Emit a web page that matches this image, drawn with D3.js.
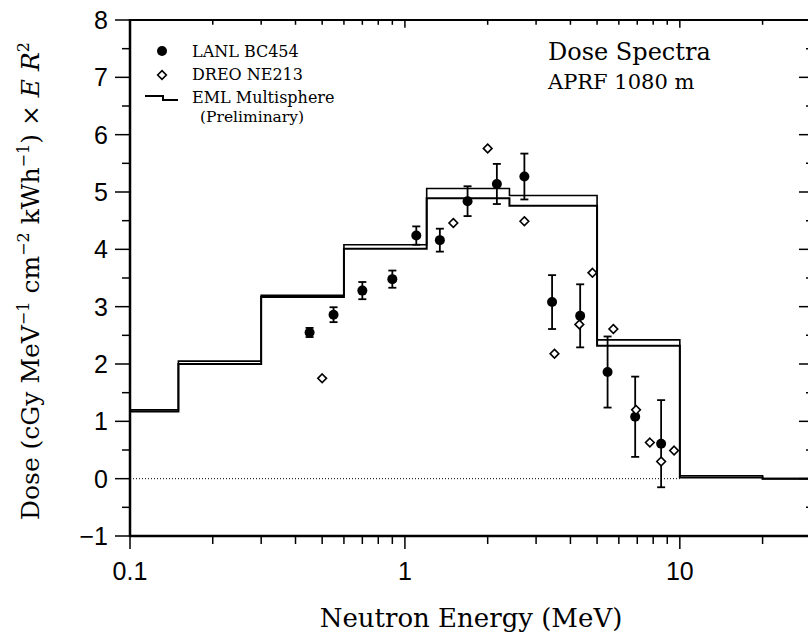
<!DOCTYPE html>
<html>
<head>
<meta charset="utf-8">
<script src="https://cdn.jsdelivr.net/npm/d3@7"></script>
<style>
  body { margin: 0; background: #fff; }
  svg { display: block; }
</style>
</head>
<body>
<div id="chart"></div>
<script>
// EML multisphere bins (edges in MeV) with upper / lower outlines
var binEdges = [0.1, 0.15, 0.3, 0.6, 1.2, 2.4, 5, 10, 20, 30];
var emlUpper = [1.20, 2.05, 3.20, 4.08, 5.06, 4.94, 2.42, 0.05, 0];
var emlLower = [1.17, 2.00, 3.17, 4.01, 4.89, 4.76, 2.32, 0.02, 0];

// LANL BC454 points
var lanlE    = [0.45, 0.55, 0.70, 0.90, 1.10, 1.34, 1.69, 2.16, 2.72, 3.43, 4.34, 5.46, 6.88, 8.55];
var lanlDose = [2.55, 2.86, 3.28, 3.48, 4.24, 4.16, 4.84, 5.14, 5.27, 3.08, 2.84, 1.86, 1.08, 0.61];
var lanlErr  = [0.08, 0.13, 0.15, 0.15, 0.16, 0.20, 0.26, 0.35, 0.40, 0.47, 0.55, 0.62, 0.70, 0.76];

// DREO NE213 points
var dreoE    = [0.50, 1.50, 2.00, 2.72, 3.50, 4.31, 4.81, 5.73, 6.93, 7.78, 8.55, 9.53];
var dreoDose = [1.75, 4.46, 5.76, 4.49, 2.18, 2.69, 3.59, 2.61, 1.20, 0.63, 0.30, 0.49];

var yTicks = [-1, 0, 1, 2, 3, 4, 5, 6, 7, 8];
var xTickLabels = [0.1, 1, 10];

var W = 808, H = 641;
var pL = 130, pR = 811, pT = 20, pB = 536;

var svg = d3.select("#chart").append("svg")
  .attr("width", W).attr("height", H);

var x = d3.scaleLog().domain([0.1, 30]).range([pL, pR]);
var y = d3.scaleLinear().domain([-1, 8]).range([pB, pT]);

var serif = "'DejaVu Serif', serif";
var sans = "'Liberation Sans', Arial, sans-serif";

// zero line (dotted)
svg.append("line")
  .attr("x1", x(0.1)).attr("x2", x(10))
  .attr("y1", y(0)).attr("y2", y(0))
  .attr("stroke", "#000").attr("stroke-width", 1)
  .attr("stroke-dasharray", "1,2");

// minor / major x ticks
var xMinor = [];
[0.1, 1, 10].forEach(function(d) {
  for (var k = 1; k <= 9; k++) { if (d * k <= 30.001) xMinor.push(+(d * k).toFixed(3)); }
});

var axes = svg.append("g").attr("stroke", "#000");
xMinor.forEach(function(v) {
  var major = xTickLabels.indexOf(v) >= 0;
  var len = major ? 13 : 8;
  // bottom (outward)
  axes.append("line").attr("x1", x(v)).attr("x2", x(v))
    .attr("y1", pB).attr("y2", pB + len).attr("stroke-width", 1.5);
  // top (inward)
  axes.append("line").attr("x1", x(v)).attr("x2", x(v))
    .attr("y1", pT).attr("y2", pT + len * 0.6).attr("stroke-width", 1.5);
});

// y ticks left (outward) and right (inward)
d3.range(-1, 8.01, 0.5).forEach(function(v) {
  var major = Math.abs(v - Math.round(v)) < 1e-6;
  var len = major ? 15 : 8;
  axes.append("line").attr("x1", pL - len).attr("x2", pL)
    .attr("y1", y(v)).attr("y2", y(v)).attr("stroke-width", 1.5);
  axes.append("line").attr("x1", pR - len + 3).attr("x2", pR)
    .attr("y1", y(v)).attr("y2", y(v)).attr("stroke-width", 1.5);
});

// frame
axes.append("line").attr("x1", pL).attr("x2", pL).attr("y1", pT - 1).attr("y2", pB + 1).attr("stroke-width", 2.5);
axes.append("line").attr("x1", pL).attr("x2", pR).attr("y1", pB).attr("y2", pB).attr("stroke-width", 2.5);
axes.append("line").attr("x1", pL).attr("x2", pR).attr("y1", pT).attr("y2", pT).attr("stroke-width", 2);
axes.append("line").attr("x1", pR).attr("x2", pR).attr("y1", pT).attr("y2", pB).attr("stroke-width", 2);

// tick labels
svg.selectAll(".ylab").data(yTicks).enter().append("text")
  .attr("x", 108).attr("y", function(d) { return y(d) + 9; })
  .attr("text-anchor", "end")
  .style("font-family", sans).style("font-size", "25px")
  .text(function(d) { return d < 0 ? "\u2212" + Math.abs(d) : d; });

svg.selectAll(".xlab").data(xTickLabels).enter().append("text")
  .attr("x", function(d) { return x(d); }).attr("y", 580)
  .attr("text-anchor", "middle")
  .style("font-family", sans).style("font-size", "25px")
  .text(function(d) { return d; });

// EML step outlines
function stepPts(vals) {
  var pts = vals.map(function(v, i) { return [binEdges[i], v]; });
  pts.push([binEdges[binEdges.length - 1], vals[vals.length - 1]]);
  return pts;
}
var stepLine = d3.line()
  .x(function(d) { return x(d[0]); })
  .y(function(d) { return y(d[1]); })
  .curve(d3.curveStepAfter);

svg.append("path").datum(stepPts(emlUpper))
  .attr("d", stepLine).attr("fill", "none")
  .attr("stroke", "#000").attr("stroke-width", 1.6);
svg.append("path").datum(stepPts(emlLower))
  .attr("d", stepLine).attr("fill", "none")
  .attr("stroke", "#000").attr("stroke-width", 2);

// LANL error bars + dots
var lanl = lanlE.map(function(e, i) { return { e: e, v: lanlDose[i], err: lanlErr[i] }; });
var eb = svg.append("g").attr("stroke", "#000").attr("stroke-width", 1.8);
lanl.forEach(function(d) {
  var cx = x(d.e);
  eb.append("line").attr("x1", cx).attr("x2", cx)
    .attr("y1", y(d.v - d.err)).attr("y2", y(d.v + d.err));
  [d.v - d.err, d.v + d.err].forEach(function(t) {
    eb.append("line").attr("x1", cx - 4).attr("x2", cx + 4)
      .attr("y1", y(t)).attr("y2", y(t));
  });
});
svg.selectAll(".lanl").data(lanl).enter().append("circle")
  .attr("cx", function(d) { return x(d.e); })
  .attr("cy", function(d) { return y(d.v); })
  .attr("r", 5).attr("fill", "#000");

// DREO diamonds
var diamond = d3.symbol().type(d3.symbolDiamond2).size(48);
svg.selectAll(".dreo").data(dreoE).enter().append("path")
  .attr("d", diamond)
  .attr("transform", function(d, i) { return "translate(" + x(d) + "," + y(dreoDose[i]) + ")"; })
  .attr("fill", "#fff").attr("stroke", "#000").attr("stroke-width", 1.6);

// legend
var lg = svg.append("g").style("font-family", serif).style("font-size", "16px");
lg.append("circle").attr("cx", 162).attr("cy", 51).attr("r", 5).attr("fill", "#000");
lg.append("text").attr("x", 192).attr("y", 57).text("LANL BC454");
lg.append("path").attr("d", diamond).attr("transform", "translate(162,75)")
  .attr("fill", "#fff").attr("stroke", "#000").attr("stroke-width", 1.6);
lg.append("text").attr("x", 192).attr("y", 80).text("DREO NE213");
lg.append("path").attr("d", "M145,96H163V100H178")
  .attr("fill", "none").attr("stroke", "#000").attr("stroke-width", 2);
lg.append("text").attr("x", 192).attr("y", 103).text("EML Multisphere");
lg.append("text").attr("x", 200).attr("y", 122).style("font-size", "15.5px").text("(Preliminary)");

// title block
svg.append("text").attr("x", 548).attr("y", 60)
  .style("font-family", serif).style("font-size", "24px").text("Dose Spectra");
svg.append("text").attr("x", 548).attr("y", 89)
  .style("font-family", serif).style("font-size", "21px").text("APRF 1080 m");

// axis titles
svg.append("text").attr("x", 471).attr("y", 627)
  .attr("text-anchor", "middle")
  .style("font-family", serif).style("font-size", "26px")
  .text("Neutron Energy (MeV)");

var yl = svg.append("text")
  .attr("transform", "translate(39,281) rotate(-90)")
  .attr("text-anchor", "middle")
  .style("font-family", serif).style("font-size", "25px");
yl.append("tspan").text("Dose (cGy MeV");
yl.append("tspan").attr("dy", -10).style("font-size", "16px").text("\u22121");
yl.append("tspan").attr("dy", 10).text(" cm");
yl.append("tspan").attr("dy", -10).style("font-size", "16px").text("\u22122");
yl.append("tspan").attr("dy", 10).text(" kWh");
yl.append("tspan").attr("dy", -10).style("font-size", "16px").text("\u22121");
yl.append("tspan").attr("dy", 10).text(") \u00d7 ");
yl.append("tspan").style("font-style", "italic").text("E R");
yl.append("tspan").attr("dy", -10).style("font-size", "16px").text("2");
</script>
</body>
</html>
